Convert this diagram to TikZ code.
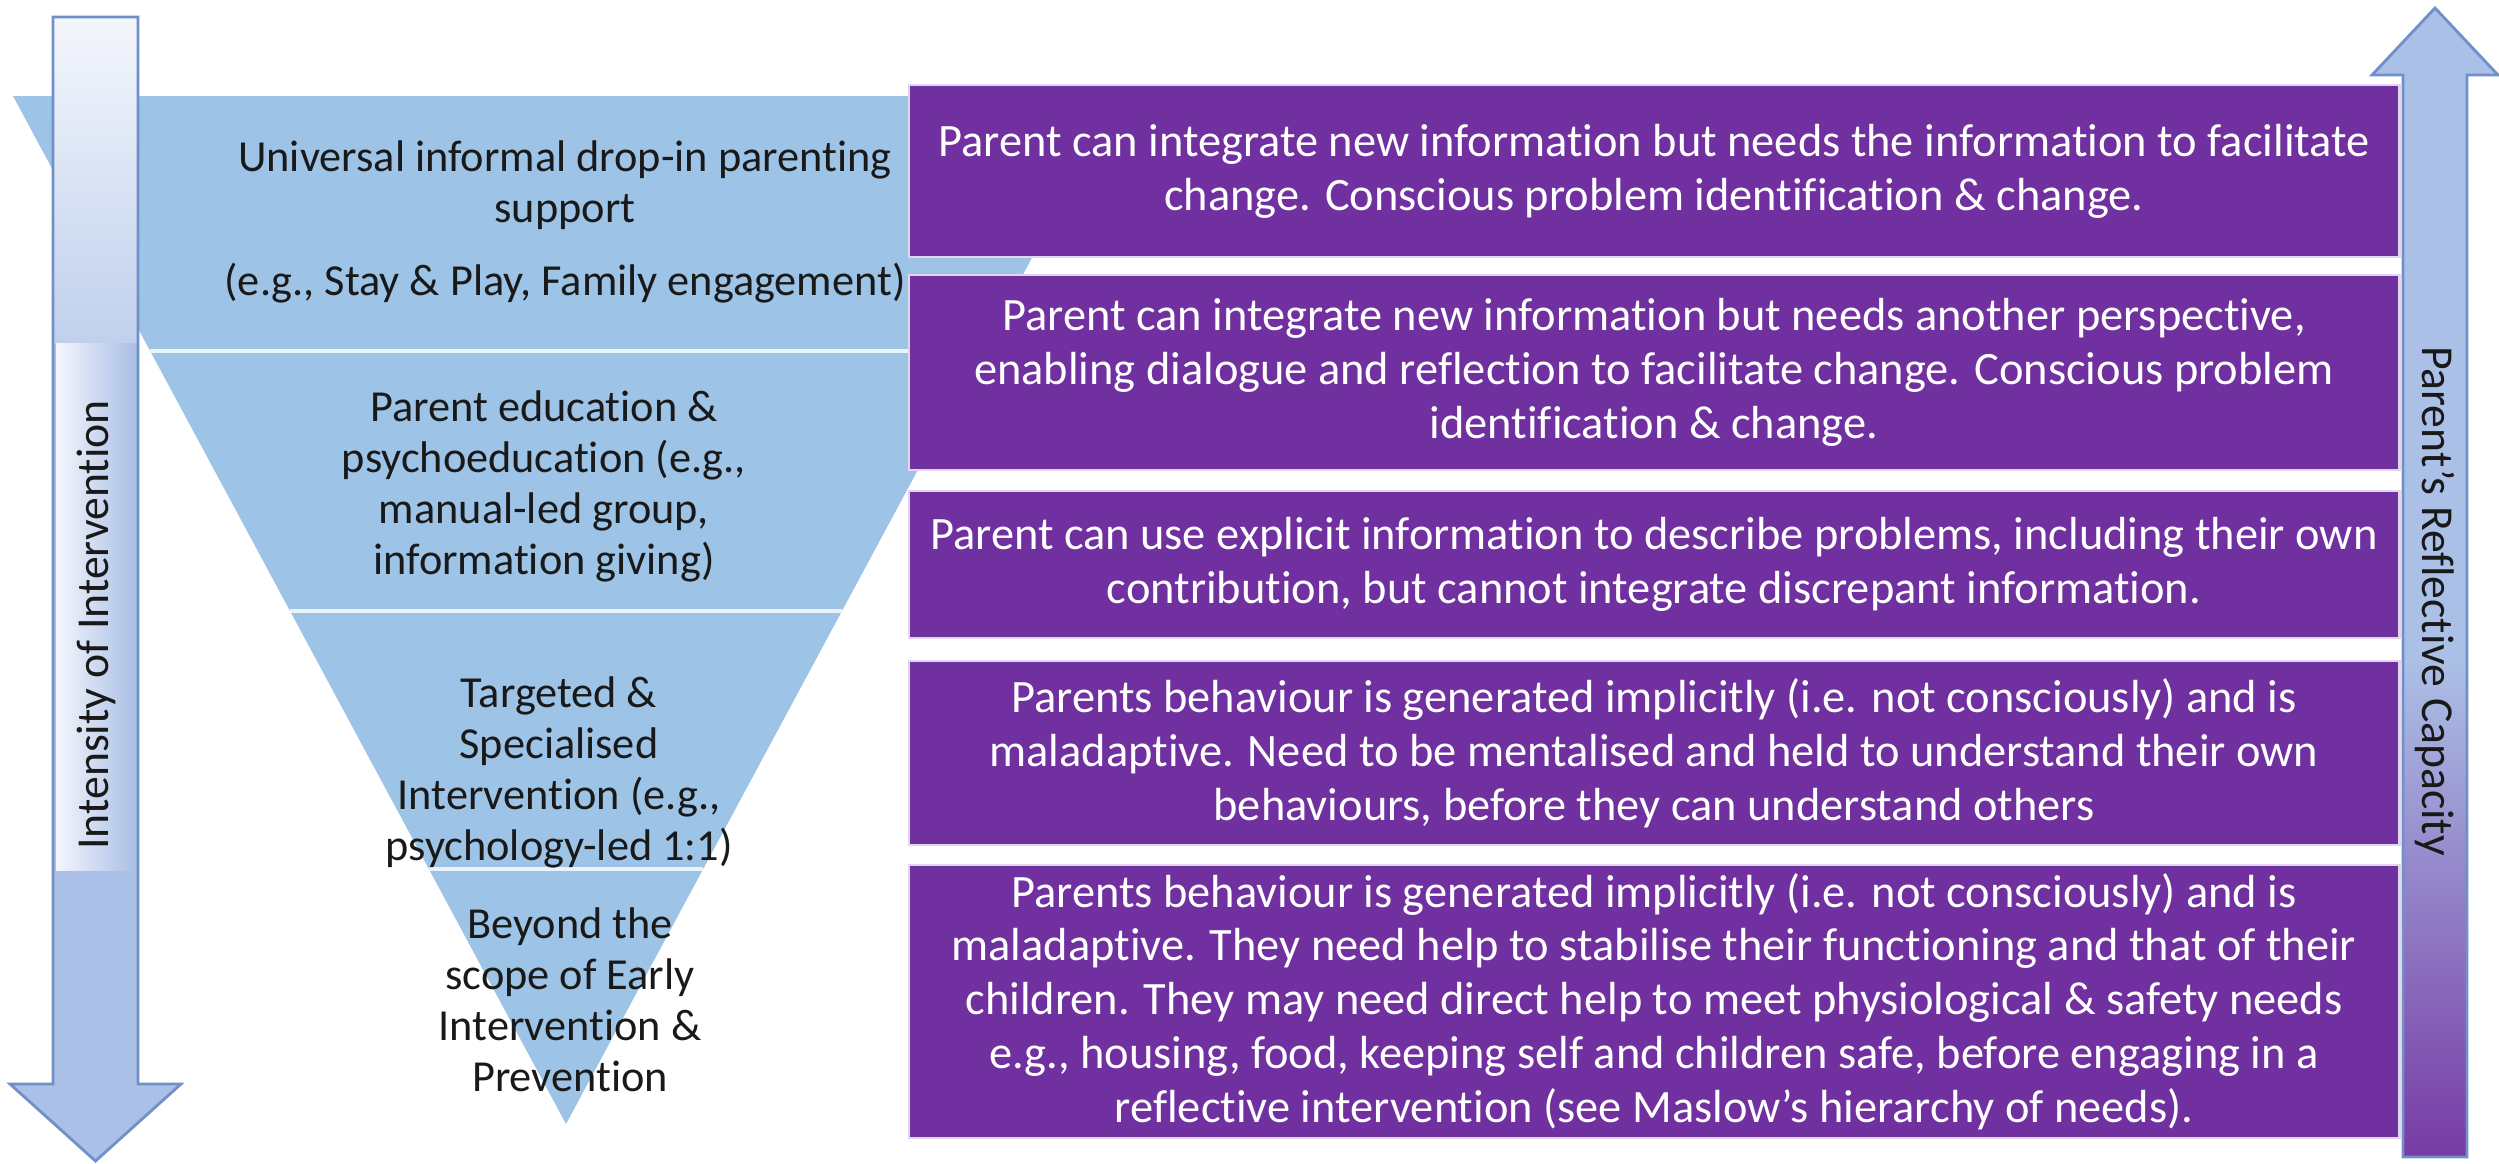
\documentclass[tikz,border=0pt]{standalone}
\usepackage{fontspec}
\setmainfont{Carlito}[Ligatures={NoCommon,NoContextual},Contextuals={NoAlternate}]
\definecolor{purp}{HTML}{7030A0}
\definecolor{triblue}{HTML}{9DC3E6}
\definecolor{arrblue}{HTML}{ABC0E6}
\definecolor{arredge}{HTML}{7090C8}
\definecolor{paleblue}{HTML}{F4F6FC}
\tikzset{
  pbox/.style={fill=purp, draw=white!80!purp, line width=0.6pt, text=white, align=center,
    minimum width=14.9cm, inner sep=0pt, font=\fontsize{13.2}{15.3}\selectfont},
  tritext/.style={text=black!90, align=center, inner sep=0pt, font=\fontsize{12.6}{14.5}\selectfont},
  axislabel/.style={text=black!90, inner sep=0pt, font=\fontsize{13}{15}\selectfont},
  divider/.style={draw=white!80!triblue, line width=0.9pt},
  arrowedge/.style={draw=arredge, line width=0.8pt, line join=miter}
}
\begin{document}
\begin{tikzpicture}[x=0.01cm,y=-0.01cm]
\useasboundingbox (0,0) rectangle (2499,1163);

% inverted triangle
\fill[triblue] (13,96) -- (1119,96) -- (566,1124) -- cycle;
\draw[divider] (150,351) -- (982,351);
\draw[divider] (290,611) -- (842,611);
\draw[divider] (429,869) -- (703,869);

% triangle texts
\node[tritext] (t1) at (565,222) {Universal informal drop-in parenting\\support\\[0.22cm](e.g., Stay \& Play, Family engagement)};
\node[tritext] (t2) at (544,486) {Parent education \&\\psychoeducation (e.g.,\\manual-led group,\\information giving)};
\node[tritext] (t3) at (559,772) {Targeted \&\\Specialised\\Intervention (e.g.,\\psychology-led 1:1)};
\node[tritext] (t4) at (570,1000) {Beyond the\\scope of Early\\Intervention \&\\Prevention};

% purple boxes
\node[pbox, minimum height=1.72cm] (b1) at (1654,171) {Parent can integrate new information but needs the information to facilitate\\change. Conscious problem identification \& change.};
\node[pbox, minimum height=1.95cm] (b2) at (1654,372.5) {Parent can integrate new information but needs another perspective,\\enabling dialogue and reflection to facilitate change. Conscious problem\\identification \& change.};
\node[pbox, minimum height=1.47cm] (b3) at (1654,564.5) {Parent can use explicit information to describe problems, including their own\\contribution, but cannot integrate discrepant information.};
\node[pbox, minimum height=1.84cm] (b4) at (1654,753) {Parents behaviour is generated implicitly (i.e. not consciously) and is\\maladaptive. Need to be mentalised and held to understand their own\\behaviours, before they can understand others};
\node[pbox, minimum height=2.73cm] (b5) at (1654,1001.5) {Parents behaviour is generated implicitly (i.e. not consciously) and is\\maladaptive. They need help to stabilise their functioning and that of their\\children. They may need direct help to meet physiological \& safety needs\\e.g., housing, food, keeping self and children safe, before engaging in a\\reflective intervention (see Maslow’s hierarchy of needs).};

% left arrow: Intensity of Intervention
\fill[arrblue] (53,17) -- (138,17) -- (138,1084) -- (181,1084) -- (95.5,1161) -- (10,1084) -- (53,1084) -- cycle;
\shade[top color=paleblue, bottom color=arrblue!75!white] (53,17) rectangle (138,343);
\shade[left color=paleblue, right color=arrblue] (56,343) rectangle (134,870);
\draw[arrowedge] (53,17) -- (138,17) -- (138,1084) -- (181,1084) -- (95.5,1161) -- (10,1084) -- (53,1084) -- cycle;
\node[axislabel, rotate=90] (lab1) at (96,625) {Intensity of Intervention};

% right arrow: Parent's Reflective Capacity
\fill[arrblue] (2403,1157) -- (2403,75) -- (2372,75) -- (2435,8) -- (2498,75) -- (2467,75) -- (2467,1157) -- cycle;
\shade[top color=arrblue, bottom color=purp!95!white] (2403,660) rectangle (2467,1157);
\draw[arrowedge] (2403,1157) -- (2403,75) -- (2372,75) -- (2435,8) -- (2498,75) -- (2467,75) -- (2467,1157) -- cycle;
\node[axislabel, rotate=-90] (lab2) at (2435,601) {Parent’s Reflective Capacity};
\end{tikzpicture}
\end{document}
